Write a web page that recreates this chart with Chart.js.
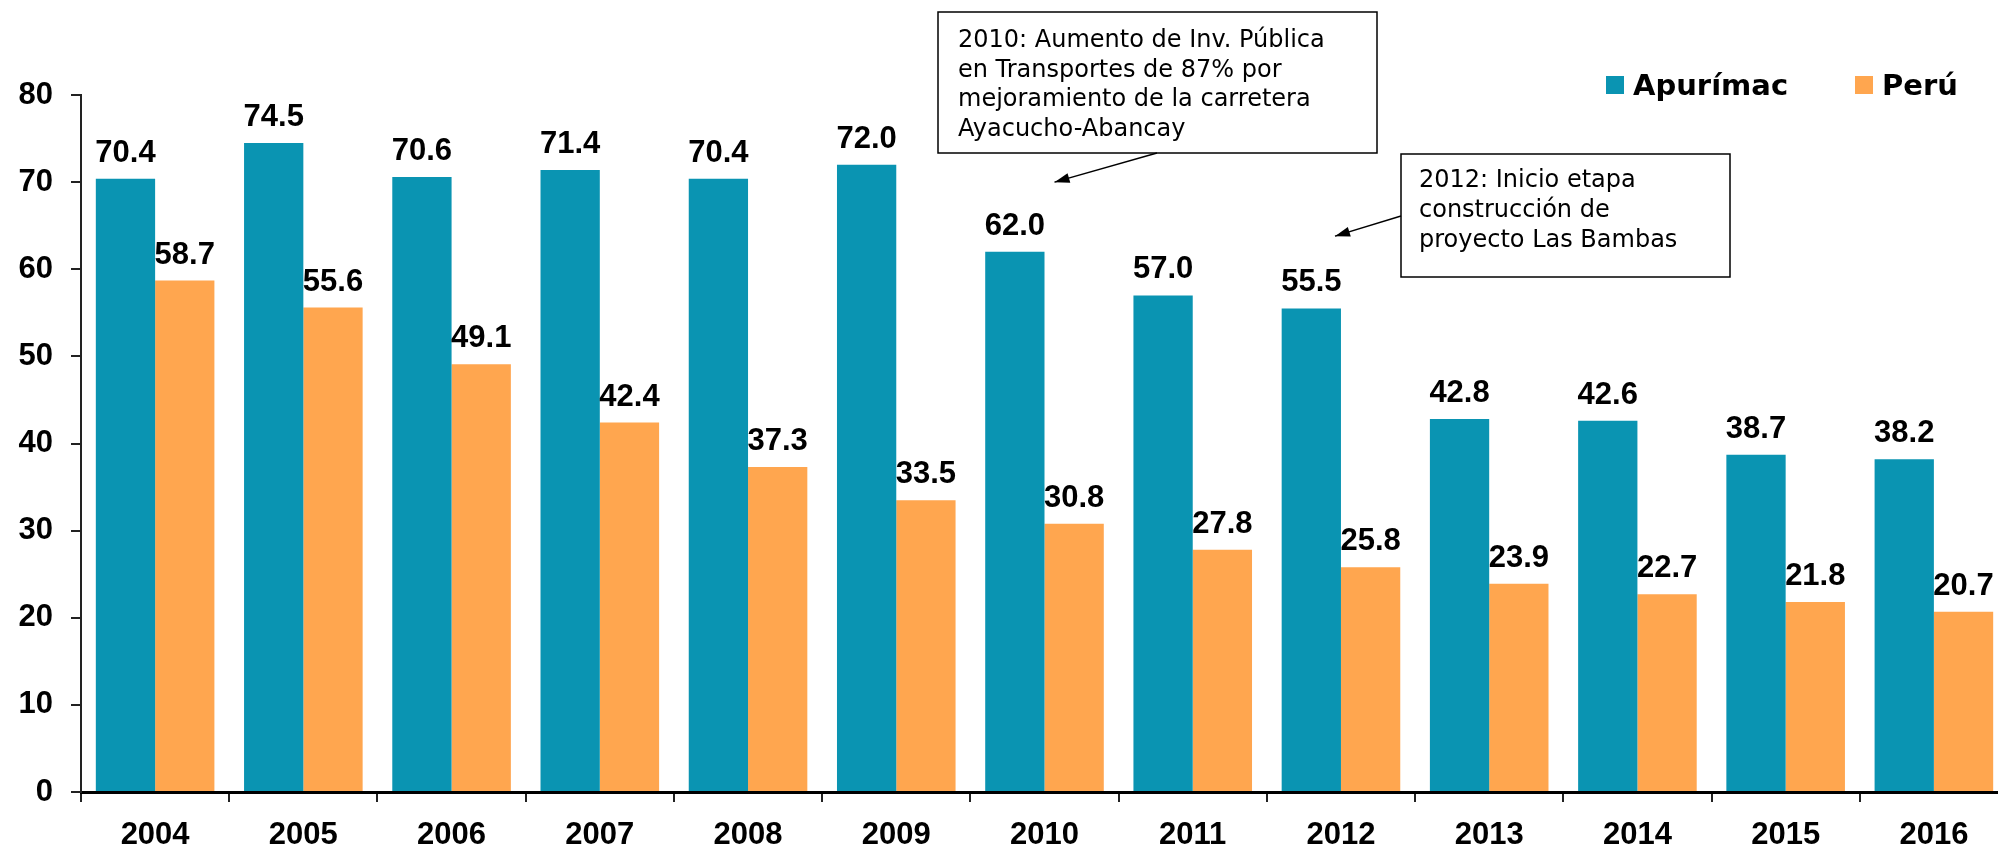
<!DOCTYPE html>
<html><head><meta charset="utf-8">
<script src="https://cdn.jsdelivr.net/npm/chart.js@4.4.0/dist/chart.umd.min.js"></script>
<style>
html,body{margin:0;padding:0;overflow:hidden;background:#fff;width:1998px;height:849px}
#wrap{position:absolute;left:0;top:0;width:2010px;height:849px}
</style>
</head><body><div id="wrap"><canvas id="c" width="2010" height="849"></canvas></div>
<script>
const categories = ['2004','2005','2006','2007','2008','2009','2010','2011','2012','2013','2014','2015','2016'];
const apurimac = [70.4, 74.5, 70.6, 71.4, 70.4, 72.0, 62.0, 57.0, 55.5, 42.8, 42.6, 38.7, 38.2];
const peru = [58.7, 55.6, 49.1, 42.4, 37.3, 33.5, 30.8, 27.8, 25.8, 23.9, 22.7, 21.8, 20.7];
const seriesNames = ['Apurímac', 'Perú'];
const yMin = 0, yMax = 80, yStep = 10;

const note2010 = ['2010: Aumento de Inv. Pública', 'en Transportes de 87% por', 'mejoramiento de la carretera', 'Ayacucho-Abancay'];
const note2012 = ['2012: Inicio etapa', 'construcción de', 'proyecto Las Bambas'];

const COLORS = ['#0A94B2', '#FFA64F'];
const NUM_FONT = 'bold 31px "Liberation Sans", Arial, sans-serif';

const valueLabels = {
  id: 'valueLabels',
  afterDatasetsDraw(chart) {
    const ctx = chart.ctx;
    ctx.save();
    ctx.font = NUM_FONT;
    ctx.fillStyle = '#000';
    ctx.textAlign = 'center';
    ctx.textBaseline = 'alphabetic';
    chart.data.datasets.forEach((ds, di) => {
      const meta = chart.getDatasetMeta(di);
      meta.data.forEach((bar, i) => {
        ctx.fillText(Number(ds.data[i]).toFixed(1), bar.x, bar.y - 17);
      });
    });
    ctx.restore();
  }
};

const customLegend = {
  id: 'customLegend',
  afterDraw(chart) {
    const ctx = chart.ctx;
    ctx.save();
    ctx.font = 'bold 29px "DejaVu Sans", sans-serif';
    ctx.textBaseline = 'alphabetic';
    const xs = [1606, 1855];
    chart.data.datasets.forEach((ds, i) => {
      ctx.fillStyle = ds.backgroundColor;
      ctx.fillRect(xs[i], 76, 18, 18);
      ctx.fillStyle = '#000';
      ctx.fillText(ds.label, xs[i] + 27, 95);
    });
    ctx.restore();
  }
};

function arrow(ctx, x1, y1, x2, y2) {
  ctx.beginPath();
  ctx.moveTo(x1, y1);
  ctx.lineTo(x2, y2);
  ctx.stroke();
  const a = Math.atan2(y2 - y1, x2 - x1);
  const L = 15, W = 5;
  ctx.beginPath();
  ctx.moveTo(x2, y2);
  ctx.lineTo(x2 - L * Math.cos(a) + W * Math.sin(a), y2 - L * Math.sin(a) - W * Math.cos(a));
  ctx.lineTo(x2 - L * Math.cos(a) - W * Math.sin(a), y2 - L * Math.sin(a) + W * Math.cos(a));
  ctx.closePath();
  ctx.fill();
}

const notes = {
  id: 'notes',
  afterDraw(chart) {
    const ctx = chart.ctx;
    const xs = chart.scales.x, ys = chart.scales.y;
    ctx.save();
    ctx.strokeStyle = '#000';
    ctx.fillStyle = '#000';
    ctx.lineWidth = 1.5;
    ctx.font = '24px "DejaVu Sans", sans-serif';
    ctx.textBaseline = 'alphabetic';
    ctx.textAlign = 'left';
    ctx.fillStyle = '#fff';
    ctx.fillRect(938, 12, 439, 141);
    ctx.strokeRect(938, 12, 439, 141);
    ctx.fillStyle = '#000';
    note2010.forEach((t, i) => ctx.fillText(t, 958, 47 + i * 29.5));
    arrow(ctx, 1157, 153, xs.getPixelForValue(6) + 10, ys.getPixelForValue(70));
    ctx.fillStyle = '#fff';
    ctx.fillRect(1401, 154, 329, 123);
    ctx.strokeRect(1401, 154, 329, 123);
    ctx.fillStyle = '#000';
    note2012.forEach((t, i) => ctx.fillText(t, 1419, 187 + i * 30));
    arrow(ctx, 1401, 216, xs.getPixelForValue(8) - 6, ys.getPixelForValue(63.8));
    ctx.restore();
  }
};

new Chart(document.getElementById('c'), {
  type: 'bar',
  data: {
    labels: categories,
    datasets: [
      { label: seriesNames[0], data: apurimac, backgroundColor: COLORS[0], categoryPercentage: 0.8, barPercentage: 1.0 },
      { label: seriesNames[1], data: peru, backgroundColor: COLORS[1], categoryPercentage: 0.8, barPercentage: 1.0 }
    ]
  },
  options: {
    responsive: false,
    animation: false,
    layout: { padding: { top: 95, right: 2, left: 0, bottom: 0 } },
    plugins: { legend: { display: false }, tooltip: { enabled: false } },
    scales: {
      x: {
        grid: { offset: true, drawOnChartArea: false, tickLength: 10, color: '#222', lineWidth: 2 },
        border: { color: '#000', width: 3 },
        ticks: { font: { family: '"Liberation Sans", Arial, sans-serif', size: 31, weight: 'bold' }, color: '#000', padding: 15, maxRotation: 0 },
        afterFit: s => { s.height = 57; }
      },
      y: {
        min: yMin, max: yMax,
        grid: { drawOnChartArea: false, tickLength: 10, color: '#222', lineWidth: 2 },
        border: { color: '#222', width: 2 },
        ticks: { stepSize: yStep, font: { family: '"Liberation Sans", Arial, sans-serif', size: 31, weight: 'bold' }, color: '#000', padding: 18 },
        afterFit: s => { s.width = 81; }
      }
    }
  },
  plugins: [valueLabels, customLegend, notes]
});
</script>
</body></html>
